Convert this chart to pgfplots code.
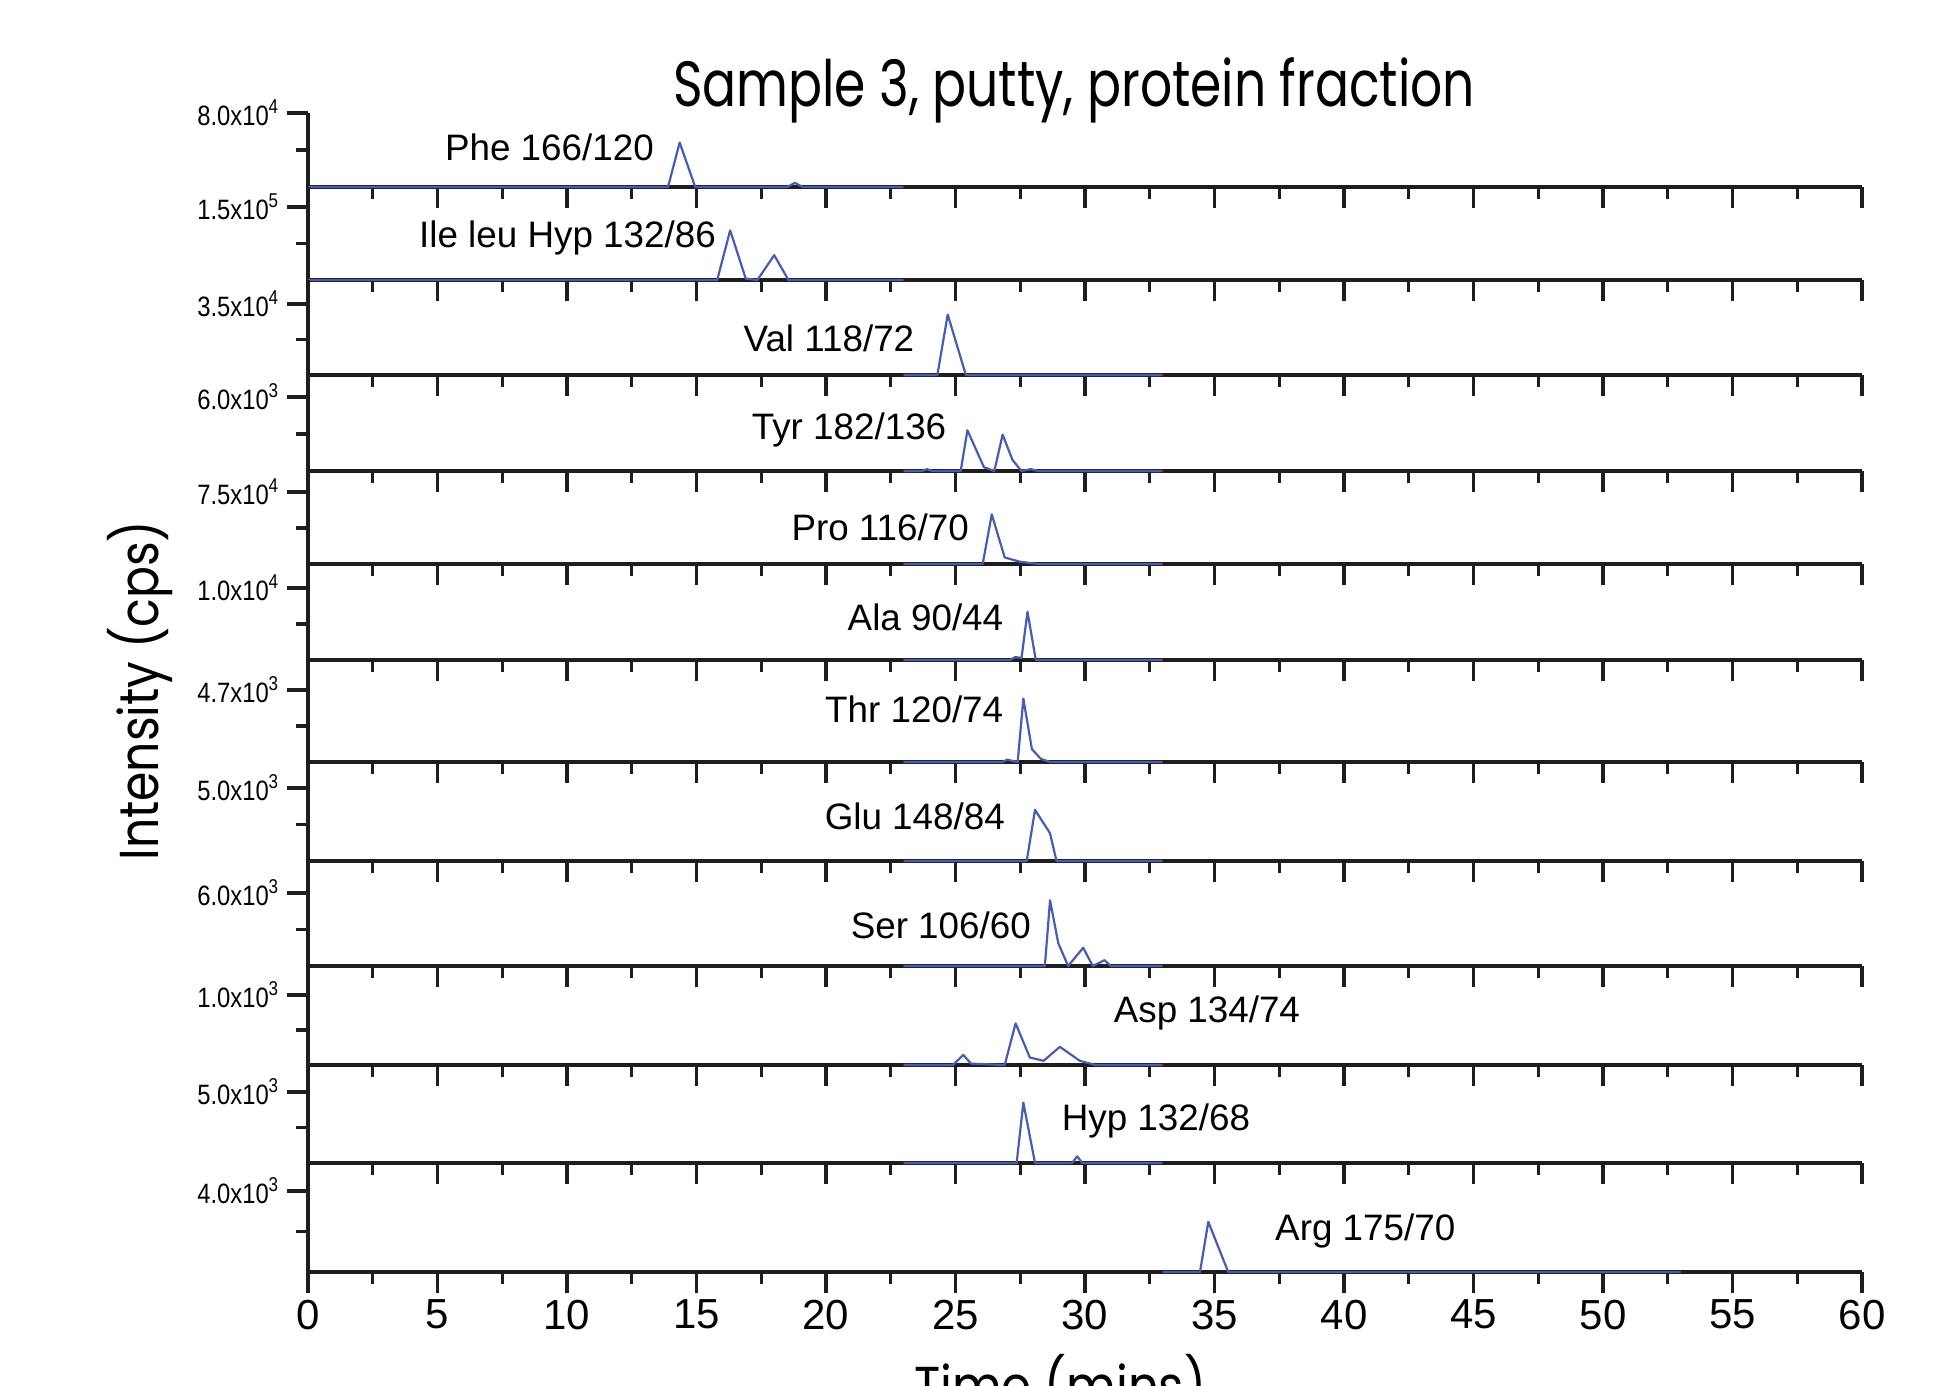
\documentclass[border=0pt]{standalone}
\usepackage{fontspec}
\usepackage{graphicx}
\usepackage{pgfplots}
\pgfplotsset{compat=1.18}
\setmainfont{Liberation Sans}
\newfontfamily\titlefont{Poppins}
\newfontfamily\condfont{Liberation Sans}[FakeStretch=0.85]
\definecolor{trace}{RGB}{70,92,185}
\definecolor{axcol}{RGB}{30,30,30}
\pgfplotsset{
 panel/.style={
  scale only axis, width=388.5pt, anchor=south west,
  xmin=0, xmax=60, ymin=0,
  axis lines*=left,
  axis line style={line width=1.1pt, axcol},
  tick style={line width=0.8pt, axcol},
  tick align=outside,
  xtick={0,5,...,60}, minor x tick num=1,
  major tick length=5.25pt, minor tick length=3pt,
  scaled y ticks=false,
  yticklabel style={font=\condfont\fontsize{7}{8}\selectfont, inner sep=1.5pt},
  clip=false,
  every axis plot post/.append style={color=trace, line width=0.55pt, mark=none, line join=round},
 },
 upper/.style={panel, xticklabels={}},
}
\begin{document}
\begin{tikzpicture}
\useasboundingbox (0,0) rectangle (486pt,346.25pt);
% 1 Phe
\begin{axis}[upper, at={(77pt,299.5pt)}, height=18.5pt, ymax=80000,
  ytick={80000}, minor ytick={40000}, yticklabels={8.0x10\textsuperscript{4}}]
\addplot coordinates {(0,0) (13.9,0) (14.35,48000) (14.95,0) (18.5,0) (18.8,4500) (19.1,0) (23,0)};
\end{axis}
% 2 Ile leu Hyp
\begin{axis}[upper, at={(77pt,276.25pt)}, height=23.25pt, ymax=191096,
  ytick={150000}, minor ytick={75000}, yticklabels={1.5x10\textsuperscript{5}}]
\addplot coordinates {(0,0) (15.8,0) (16.3,102000) (16.9,3000) (17.35,0) (18.0,51000) (18.55,0) (23,0)};
\end{axis}
% 3 Val
\begin{axis}[upper, at={(77pt,252.5pt)}, height=23.75pt, ymax=46831,
  ytick={35000}, minor ytick={17500}, yticklabels={3.5x10\textsuperscript{4}}]
\addplot coordinates {(23,0) (24.3,0) (24.7,29800) (25.4,0) (33,0)};
\end{axis}
% 4 Tyr
\begin{axis}[upper, at={(77pt,228.5pt)}, height=24pt, ymax=7784,
  ytick={6000}, minor ytick={3000}, yticklabels={6.0x10\textsuperscript{3}}]
\addplot coordinates {(23,0) (23.7,0) (23.9,150) (24.1,0) (25.2,0) (25.46,3300) (26.1,300) (26.5,0) (26.82,2950) (27.2,900) (27.55,0) (27.9,150) (28.2,0) (33,0)};
\end{axis}
% 5 Pro
\begin{axis}[upper, at={(77pt,205.25pt)}, height=23.25pt, ymax=96875,
  ytick={75000}, minor ytick={37500}, yticklabels={7.5x10\textsuperscript{4}}]
\addplot coordinates {(23,0) (26.05,0) (26.4,51750) (26.9,6800) (27.5,2300) (28.2,0) (33,0)};
\end{axis}
% 6 Ala
\begin{axis}[upper, at={(77pt,181.25pt)}, height=24pt, ymax=13333,
  ytick={10000}, minor ytick={5000}, yticklabels={1.0x10\textsuperscript{4}}]
\addplot coordinates {(23,0) (27.1,0) (27.3,400) (27.55,300) (27.78,6700) (28.1,0) (33,0)};
\end{axis}
% 7 Thr
\begin{axis}[upper, at={(77pt,155.75pt)}, height=25.5pt, ymax=6658,
  ytick={4700}, minor ytick={2350}, yticklabels={4.7x10\textsuperscript{3}}]
\addplot coordinates {(23,0) (26.8,0) (27.0,150) (27.4,0) (27.62,4140) (27.95,840) (28.3,200) (28.65,0) (33,0)};
\end{axis}
% 8 Glu
\begin{axis}[upper, at={(77pt,131pt)}, height=24.75pt, ymax=6781,
  ytick={5000}, minor ytick={2500}, yticklabels={5.0x10\textsuperscript{3}}]
\addplot coordinates {(23,0) (27.75,0) (28.07,3500) (28.65,1900) (28.9,0) (33,0)};
\end{axis}
% 9 Ser
\begin{axis}[upper, at={(77pt,104.75pt)}, height=26.25pt, ymax=8630,
  ytick={6000}, minor ytick={3000}, yticklabels={6.0x10\textsuperscript{3}}]
\addplot coordinates {(23,0) (28.45,0) (28.65,5400) (28.97,1860) (29.35,0) (29.93,1500) (30.3,0) (30.75,480) (31.0,0) (33,0)};
\end{axis}
% 10 Asp
\begin{axis}[upper, at={(77pt,80pt)}, height=24.75pt, ymax=1414,
  ytick={1000}, minor ytick={500}, yticklabels={1.0x10\textsuperscript{3}}]
\addplot coordinates {(23,0) (24.9,0) (25.3,144) (25.6,20) (26.9,0) (27.32,595) (27.87,107) (28.4,60) (29.03,260) (29.8,60) (30.4,0) (33,0)};
\end{axis}
% 11 Hyp
\begin{axis}[upper, at={(77pt,55.5pt)}, height=24.5pt, ymax=6901,
  ytick={5000}, minor ytick={2500}, yticklabels={5.0x10\textsuperscript{3}}]
\addplot coordinates {(23,0) (27.36,0) (27.62,4250) (28.07,0) (29.5,0) (29.7,470) (29.9,0) (33,0)};
\end{axis}
% 12 Arg
\begin{axis}[panel, at={(77pt,28.25pt)}, height=27.25pt, ymax=5383,
  ytick={4000}, minor ytick={2000}, yticklabels={4.0x10\textsuperscript{3}},
  xticklabels={0,5,10,15,20,25,30,35,40,45,50,55,60},
  xticklabel style={font=\fontsize{10.5}{12}\selectfont, inner sep=1.5pt}]
\addplot coordinates {(33,0) (34.44,0) (34.76,2480) (35.53,0) (53,0)};
\end{axis}
% labels
\tikzset{lab/.style={inner sep=0pt, font=\fontsize{9.2}{11}\selectfont}}
\node[lab, anchor=east] at (163.65pt,309.4pt) {Phe 166/120};
\node[lab, anchor=east] at (179.15pt,286.75pt) {Ile leu Hyp 132/86};
\node[lab, anchor=east] at (228.75pt,261.6pt) {Val 118/72};
\node[lab, anchor=east] at (236.75pt,238.75pt) {Tyr 182/136};
\node[lab, anchor=east] at (242.4pt,214.5pt) {Pro 116/70};
\node[lab, anchor=east] at (251pt,192pt) {Ala 90/44};
\node[lab, anchor=east] at (251pt,169pt) {Thr 120/74};
\node[lab, anchor=east] at (251.4pt,142.25pt) {Glu 148/84};
\node[lab, anchor=east] at (257.9pt,115pt) {Ser 106/60};
\node[lab, anchor=west] at (278.25pt,93pt) {Asp 134/74};
\node[lab, anchor=west] at (265.25pt,66pt) {Hyp 132/68};
\node[lab, anchor=west] at (318.6pt,38.5pt) {Arg 175/70};
% title and axis labels
\node[anchor=base, inner sep=0pt] at (268.5pt,319.6pt)
  {\resizebox{200.5pt}{\height}{\titlefont\fontsize{16}{19}\selectfont Sample 3, putty, protein fraction}};
\node[rotate=90, anchor=base, inner sep=0pt] at (39.7pt,173.6pt)
  {\resizebox{85pt}{\height}{\titlefont\fontsize{13.7}{16}\selectfont Intensity (cps)}};
\node[anchor=base, inner sep=0pt] at (265pt,-5.2pt)
  {\resizebox{73pt}{\height}{\titlefont\fontsize{13.7}{16}\selectfont Time (mins)}};
\end{tikzpicture}
\end{document}
